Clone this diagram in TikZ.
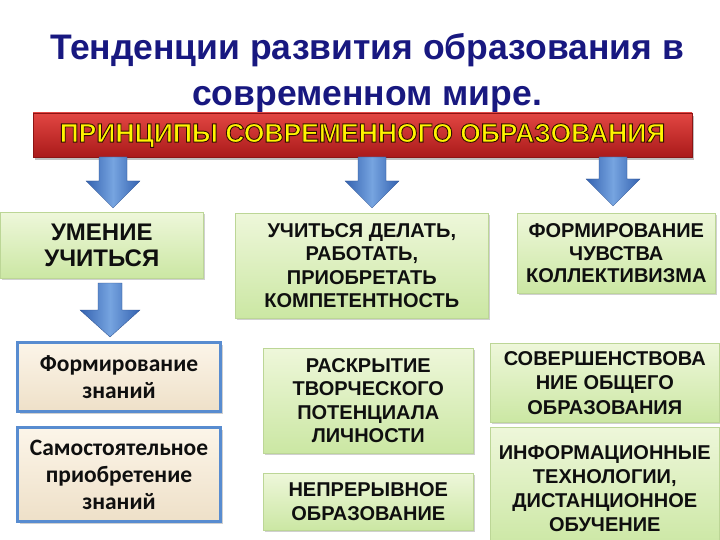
\documentclass[tikz,border=0pt]{standalone}
\usepackage{fontspec}
\setmainfont{Liberation Sans}
\newfontfamily\calfont{Carlito}
\usetikzlibrary{shadows,calc}
\definecolor{navy}{RGB}{24,24,128}
\definecolor{bantop}{RGB}{226,70,66}
\definecolor{banbot}{RGB}{170,26,26}
\definecolor{banedge}{RGB}{140,20,20}
\definecolor{gtop}{RGB}{238,247,218}
\definecolor{gbot}{RGB}{203,231,163}
\definecolor{gedge}{RGB}{188,214,150}
\definecolor{btop}{RGB}{252,245,233}
\definecolor{bbot}{RGB}{238,224,200}
\definecolor{bedge}{RGB}{88,140,208}
\definecolor{adark}{RGB}{52,98,176}
\definecolor{alight}{RGB}{118,164,224}
\definecolor{ytext}{RGB}{255,245,0}
\definecolor{btext}{RGB}{15,15,15}
\newcommand\outlinedtext[1]{\special{pdf:literal direct 2 Tr 0.9 w 0.2 0.05 0.0 RG}#1\special{pdf:literal direct 0 Tr}}
\newcommand\blockarrow[4]{%
  \shade[arrowpaint] let \p1=(#1), \p2=(#2) in
    (\x1-#3,\y1) -- (\x1+#3,\y1) -- (\x1+#3,\y2+27) -- (\x1+#4,\y2+27) --
    (\x2,\y2) -- (\x1-#4,\y2+27) -- (\x1-#3,\y2+27) -- cycle;}
\tikzset{
  titletext/.style={anchor=base, text=navy, font=\fontsize{35.5}{40}\selectfont\bfseries, inner sep=0pt},
  banner/.style={rectangle, top color=bantop, bottom color=banbot, draw=banedge, line width=0.8pt,
    minimum width=659pt, minimum height=44pt, inner sep=0pt,
    drop shadow={shadow xshift=2pt, shadow yshift=-3pt, opacity=.35, fill=black!70}},
  gbox/.style={rectangle, anchor=north west, top color=gtop, bottom color=gbot, draw=gedge, line width=0.6pt,
    align=center, text=btext, inner sep=0pt,
    drop shadow={shadow xshift=2pt, shadow yshift=-2pt, opacity=.3, fill=black!60}},
  bbox/.style={rectangle, anchor=north west, top color=btop, bottom color=bbot, draw=bedge, line width=3pt,
    align=center, text=btext, inner sep=0pt,
    drop shadow={shadow xshift=2pt, shadow yshift=-2pt, opacity=.3, fill=black!60}},
  capsfont/.style={font=\fontsize{20}{23.5}\selectfont\bfseries},
  arrowpaint/.style={left color=adark, right color=adark, middle color=alight, draw=adark!80!black, line width=0.3pt}
}
\begin{document}
\begin{tikzpicture}[x=1pt,y=1pt]
\useasboundingbox (0,0) rectangle (720,-540);
\fill[white] (0,0) rectangle (720,-540);

% title
\node[titletext] (t1) at (367,-60) {Тенденции развития образования в};
\node[titletext] (t2) at (367,-106) {современном мире.};

% banner
\node[banner] (ban) at (362.5,-135) {};
\node[anchor=center, inner sep=0pt, text=ytext, font=\fontsize{26.5}{30}\selectfont\bfseries]
  (bantext) at (362.5,-135.5) {\outlinedtext{ПРИНЦИПЫ СОВРЕМЕННОГО ОБРАЗОВАНИЯ}};

% column 1
\node[gbox, minimum width=203pt, minimum height=66pt, font=\fontsize{24}{26}\selectfont\bfseries]
  (um) at (0,-212) {УМЕНИЕ\\УЧИТЬСЯ};
\node[bbox, minimum width=203pt, minimum height=69pt, font=\calfont\fontsize{23.5}{27}\selectfont\bfseries]
  (fz) at (16,-341) {Формирование\\знаний};
\node[bbox, minimum width=203pt, minimum height=94pt, font=\calfont\fontsize{23.5}{27}\selectfont\bfseries]
  (spz) at (16,-426) {Самостоятельное\\приобретение\\знаний};

% column 2
\node[gbox, capsfont, minimum width=253pt, minimum height=105pt]
  (ucd) at (235,-213) {УЧИТЬСЯ ДЕЛАТЬ,\\РАБОТАТЬ,\\ПРИОБРЕТАТЬ\\КОМПЕТЕНТНОСТЬ};
\node[gbox, capsfont, minimum width=210pt, minimum height=105pt]
  (rtp) at (263,-348) {РАСКРЫТИЕ\\ТВОРЧЕСКОГО\\ПОТЕНЦИАЛА\\ЛИЧНОСТИ};
\node[gbox, capsfont, minimum width=210pt, minimum height=57pt]
  (nep) at (263,-473) {НЕПРЕРЫВНОЕ\\ОБРАЗОВАНИЕ};

% column 3
\node[gbox, minimum width=198pt, minimum height=80pt, font=\fontsize{20}{22.5}\selectfont\bfseries]
  (fck) at (517,-213) {ФОРМИРОВАНИЕ\\ЧУВСТВА\\КОЛЛЕКТИВИЗМА};
\node[gbox, minimum width=229pt, minimum height=79pt, font=\fontsize{20}{24.5}\selectfont\bfseries]
  (sov) at (490,-343) {СОВЕРШЕНСТВОВА\\НИЕ ОБЩЕГО\\ОБРАЗОВАНИЯ};
\node[gbox, minimum width=229pt, minimum height=122pt, font=\fontsize{20}{24}\selectfont\bfseries]
  (inf) at (490,-427) {ИНФОРМАЦИОННЫЕ\\ТЕХНОЛОГИИ,\\ДИСТАНЦИОННОЕ\\ОБУЧЕНИЕ};

% arrows
\coordinate (a1t) at (113,-157);
\coordinate (a1b) at (113,-208);
\coordinate (a2t) at (372,-157);
\coordinate (a2b) at (372,-208);
\coordinate (a3t) at (613,-157);
\coordinate (a3b) at (613,-206);
\coordinate (a4t) at (110,-283);
\coordinate (a4b) at (110,-337);
\blockarrow{a1t}{a1b}{14}{27}
\blockarrow{a2t}{a2b}{14}{27}
\blockarrow{a3t}{a3b}{14}{27}
\blockarrow{a4t}{a4b}{12}{30}
\end{tikzpicture}
\end{document}
